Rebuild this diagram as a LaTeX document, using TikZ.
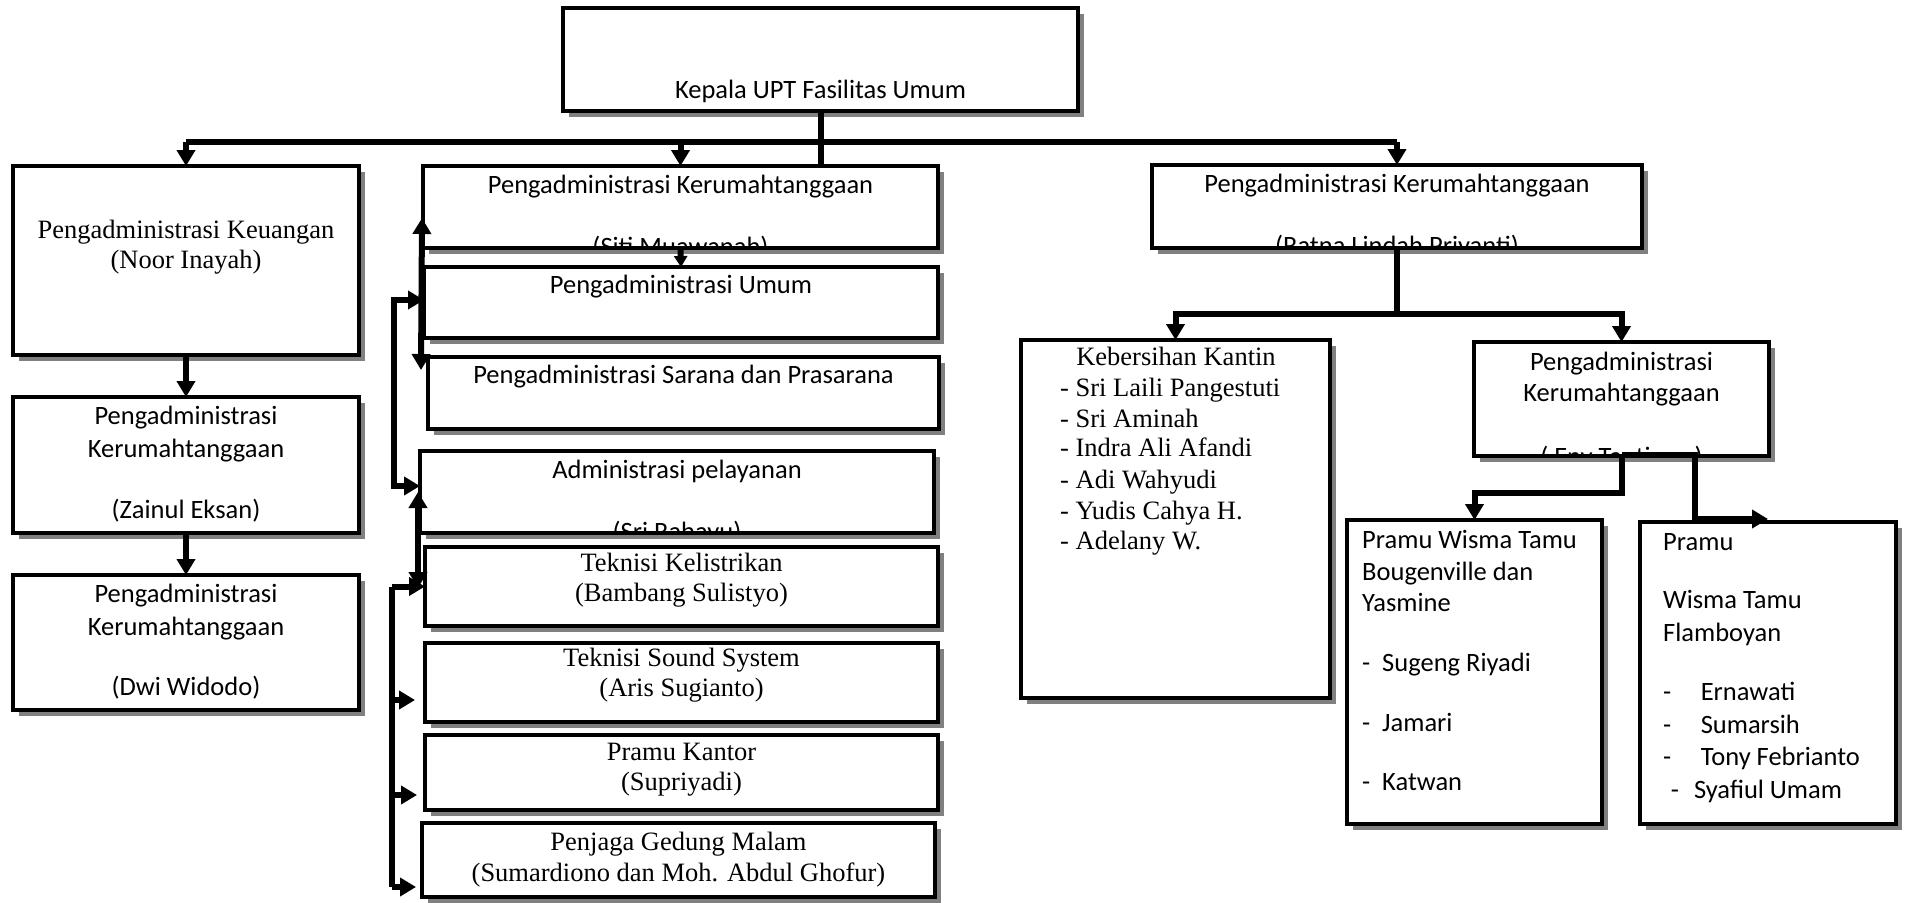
\documentclass[tikz,border=0pt]{standalone}
\usepackage{fontspec}
\setmainfont{Liberation Serif}
\newfontfamily\calfont{Carlito}
\usetikzlibrary{arrows.meta,shadows,fit}
\begin{document}
\begin{tikzpicture}[x=1pt,y=-1pt,
  box/.style={draw, line width=3.2pt, fill=white, inner sep=0pt, outer sep=0pt, rectangle,
    drop shadow={shadow xshift=6pt,shadow yshift=-6pt,opacity=1,fill=black!50}},
  cf/.style={font=\calfont\fontsize{26.5pt}{32pt}\selectfont, inner sep=0pt, anchor=base},
  cfl/.style={cf, anchor=base west},
  tf/.style={font=\fontsize{26.5pt}{30.5pt}\selectfont, inner sep=0pt, anchor=base},
  tfl/.style={tf, anchor=base west},
  conn/.style={line width=6pt},
  arr/.style={conn, -{Triangle[width=18pt,length=16pt]}},
  sarr/.style={conn, -{Triangle[width=13pt,length=11pt]}},
  dbl/.style={conn, {Triangle[width=18pt,length=16pt]}-{Triangle[width=18pt,length=16pt]}},
]
\useasboundingbox (0,0) rectangle (1908,902);
\fill[white] (0,0) rectangle (1908,902);

% ---------- boxes ----------
\node[box, fit={(563,8) (1078,111)}] (top) {};
\node[box, fit={(13,166) (359,355)}] (keu) {};
\node[box, fit={(13,397) (359,533)}] (zai) {};
\node[box, fit={(13,575) (359,710)}] (dwi) {};
\node[box, fit={(423,166) (938,248)}] (siti) {};
\node[box, fit={(424,267) (938,338)}] (umum) {};
\node[box, fit={(428,357) (939,429)}] (sarana) {};
\node[box, fit={(420,451) (934,533)}] (pel) {};
\node[box, fit={(425,547) (938,626)}] (kel) {};
\node[box, fit={(425,643) (938,722)}] (sound) {};
\node[box, fit={(425,735) (938,810)}] (kantor) {};
\node[box, fit={(422,823) (935,897)}] (penjaga) {};
\node[box, fit={(1152,165) (1642,248)}] (ratna) {};
\node[box, fit={(1021,340) (1330,698)}] (kantin) {};
\node[box, fit={(1474,342) (1769,456)}] (eny) {};
\node[box, fit={(1347,520) (1602,824)}] (boug) {};
\node[box, fit={(1640,522) (1896,824)}] (flam) {};

% ---------- texts ----------
\node[cf] (topt) at (820.5,98) {Kepala UPT Fasilitas Umum};

\node[tf] (keu1) at (186,238) {Pengadministrasi Keuangan};
\node[tf] (keu2) at (186,268) {(Noor Inayah)};

\node[cf] (zai1) at (186,424.5) {Pengadministrasi};
\node[cf] (zai2) at (186,457.5) {Kerumahtanggaan};
\node[cf] (zai3) at (186,518) {(Zainul Eksan)};

\node[cf] (dwi1) at (186,602) {Pengadministrasi};
\node[cf] (dwi2) at (186,635) {Kerumahtanggaan};
\node[cf] (dwi3) at (186,695.5) {(Dwi Widodo)};

\node[cf] (siti1) at (680.5,193) {Pengadministrasi Kerumahtanggaan};
\begin{scope}
  \clip (siti.south west) rectangle (siti.north east);
  \node[cf] (siti2) at (680.5,255) {(Siti Muawanah)};
\end{scope}

\node[cf] (umum1) at (681,293.3) {Pengadministrasi Umum};
\node[cf] (sarana1) at (683.5,383.3) {Pengadministrasi Sarana dan Prasarana};

\node[cf] (pel1) at (677,478) {Administrasi pelayanan};
\begin{scope}
  \clip (pel.south west) rectangle (pel.north east);
  \node[cf] (pel2) at (677,540) {(Sri Rahayu)};
\end{scope}

\node[tf] (kel1) at (681.5,571.7) {Teknisi Kelistrikan};
\node[tf] (kel2) at (681.5,601.7) {(Bambang Sulistyo)};
\node[tf] (sound1) at (681.5,666.7) {Teknisi Sound System};
\node[tf] (sound2) at (681.5,696.7) {(Aris Sugianto)};
\node[tf] (kantor1) at (681.5,760) {Pramu Kantor};
\node[tf] (kantor2) at (681.5,790) {(Supriyadi)};
\node[tf] (penjaga1) at (678.5,850) {Penjaga Gedung Malam};
\node[tf] (penjaga2) at (678.5,881.7) {(Sumardiono dan Moh. Abdul Ghofur)};

\node[cf] (ratna1) at (1397,192.7) {Pengadministrasi Kerumahtanggaan};
\begin{scope}
  \clip (ratna.south west) rectangle (ratna.north east);
  \node[cf] (ratna2) at (1397,254) {(Ratna Lindah Priyanti)};
\end{scope}

\node[tf] (kan0) at (1176,365) {Kebersihan Kantin};
\node[tfl] (kan1) at (1060,396.7) {- Sri Laili Pangestuti};
\node[tfl] (kan2) at (1060,427.3) {- Sri Aminah};
\node[tfl] (kan3) at (1060,456.7) {- Indra Ali Afandi};
\node[tfl] (kan4) at (1060,488.3) {- Adi Wahyudi};
\node[tfl] (kan5) at (1060,519.3) {- Yudis Cahya H.};
\node[tfl] (kan6) at (1060,549.3) {- Adelany W.};

\node[cf] (eny1) at (1621.5,370) {Pengadministrasi};
\node[cf] (eny2) at (1621.5,401.7) {Kerumahtanggaan};
\begin{scope}
  \clip (eny.south west) rectangle (eny.north east);
  \node[cf] (eny3) at (1621.5,465) {( Eny Tantiany )};
\end{scope}

\node[cfl] (boug1) at (1362,548.3) {Pramu Wisma Tamu};
\node[cfl] (boug2) at (1362,580) {Bougenville dan};
\node[cfl] (boug3) at (1362,611.7) {Yasmine};
\node[cfl] (boug4) at (1362,671.7) {\makebox[20pt][l]{-}Sugeng Riyadi};
\node[cfl] (boug5) at (1362,731.7) {\makebox[20pt][l]{-}Jamari};
\node[cfl] (boug6) at (1362,790) {\makebox[20pt][l]{-}Katwan};

\node[cfl] (flam1) at (1663,550) {Pramu};
\node[cfl] (flam2) at (1663,608.3) {Wisma Tamu};
\node[cfl] (flam3) at (1663,641.7) {Flamboyan};
\node[cfl] (flam4) at (1663,700) {\makebox[37.6pt][l]{-}Ernawati};
\node[cfl] (flam5) at (1663,733.3) {\makebox[37.6pt][l]{-}Sumarsih};
\node[cfl] (flam6) at (1663,765) {\makebox[37.6pt][l]{-}Tony Febrianto};
\node[cfl] (flam7) at (1670.6,798.3) {\makebox[23.2pt][l]{-}Syafiul Umam};

% ---------- connectors ----------
\coordinate (hy) at (0,141.7);
\draw[conn] (top.south) -- (top.south |- siti.north);
\draw[conn, line cap=square] (keu.north |- hy) -- (ratna.north |- hy);
\draw[arr] (keu.north |- hy) -- (keu.north);
\draw[arr] (siti.north |- hy) -- (siti.north);
\draw[arr] (ratna.north |- hy) -- (ratna.north);

\draw[arr] (keu.south) -- (zai.north);
\draw[arr] (zai.south) -- (dwi.north);

\draw[sarr] (siti.south) -- (umum.north);

% middle column, left side
\coordinate (va) at (422,218);
\coordinate (vb) at (421,370);
\draw[dbl] (va) -- (vb);
\coordinate (busA) at (394,0);
\coordinate (pelin) at (420,486);
\draw[dbl] (umum.west |- 0,300) -- (busA |- 0,300) -- (busA |- pelin) -- (pelin);
\coordinate (vc) at (418,492);
\coordinate (vd) at (418,588);
\draw[dbl] (vc) -- (vd);
\coordinate (busB) at (392,0);
\coordinate (soundin) at (415,700);
\coordinate (kantorin) at (417,795);
\coordinate (penjagain) at (416,887);
\draw[conn] (busB |- kel.west) -- (busB |- penjagain);
\draw[arr] (busB |- kel.west) -- (kel.west);
\draw[arr] (busB |- soundin) -- (soundin);
\draw[arr] (busB |- kantorin) -- (kantorin);
\draw[arr] (busB |- penjagain) -- (penjagain);

% right side
\coordinate (rj) at (1397,314);
\draw[conn] (ratna.south) -- (rj);
\draw[arr] (rj) -| (kantin.north);
\draw[arr] (rj) -| (eny.north);

\coordinate (ej) at (1621.5,493);
\draw[arr] (eny.south) -- (ej) -| (boug.north);
\coordinate (ek) at (1695,455);
\coordinate (flin) at (1768,519);
\draw[arr] (eny.south |- ek) -- (ek) -- (ek |- flin) -- (flin);
\end{tikzpicture}
\end{document}
